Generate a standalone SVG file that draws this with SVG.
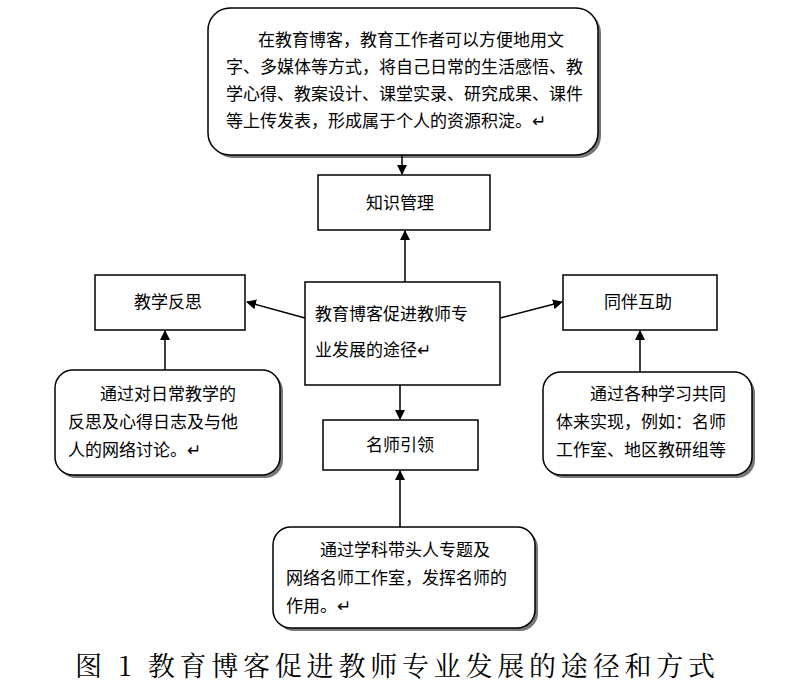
<svg xmlns="http://www.w3.org/2000/svg" width="789" height="685" viewBox="0 0 789 685">
<style>
.r{fill:#fff;stroke:#000;stroke-width:1.5}
.s{fill:#777}
.t{font-family:"Noto Sans CJK SC","Liberation Sans",sans-serif;font-size:17px;fill:#000}
.c{stroke:#000;stroke-width:1.5;fill:none;marker-end:url(#a)}
</style>
<defs><marker id="a" markerWidth="10" markerHeight="10" refX="9" refY="5" orient="auto" markerUnits="userSpaceOnUse"><path d="M0,0 L10,5 L0,10 z" fill="#000"/></marker></defs>
<rect width="789" height="685" fill="#fff"/>
<g id="top"><rect class="s" x="211" y="11" width="390" height="147" rx="22"/><rect class="r" x="208" y="8" width="390" height="147" rx="22"/>
<text class="t" x="258" y="46">在教育博客，教育工作者可以方便地用文</text>
<text class="t" x="226" y="73">字、多媒体等方式，将自己日常的生活感悟、教</text>
<text class="t" x="226" y="100">学心得、教案设计、课堂实录、研究成果、课件</text>
<text class="t" x="226" y="127">等上传发表，形成属于个人的资源积淀。↵</text></g>
<g id="zs"><rect class="r" x="318" y="175" width="172" height="55"/><text class="t" x="366" y="209">知识管理</text></g>
<g id="center"><rect class="r" x="305" y="282" width="195" height="103"/><text class="t" x="315" y="320">教育博客促进教师专</text><text class="t" x="315" y="356">业发展的途径↵</text></g>
<g id="fs"><rect class="r" x="95" y="275" width="150" height="55"/><text class="t" x="134" y="308">教学反思</text></g>
<g id="hz"><rect class="r" x="563" y="275" width="154" height="55"/><text class="t" x="604" y="308">同伴互助</text></g>
<g id="ml"><rect class="r" x="323" y="420" width="155" height="50"/><text class="t" x="366" y="451">名师引领</text></g>
<g id="left"><rect class="s" x="58" y="373" width="225" height="105" rx="18"/><rect class="r" x="55" y="370" width="225" height="105" rx="18"/>
<text class="t" x="100" y="400">通过对日常教学的</text><text class="t" x="68" y="428">反思及心得日志及与他</text><text class="t" x="68" y="456">人的网络讨论。↵</text></g>
<g id="right"><rect class="s" x="546" y="375" width="209" height="103" rx="18"/><rect class="r" x="543" y="372" width="209" height="103" rx="18"/>
<text class="t" x="590" y="400">通过各种学习共同</text><text class="t" x="556" y="428">体来实现，例如：名师</text><text class="t" x="556" y="456">工作室、地区教研组等</text></g>
<g id="bottom"><rect class="s" x="276" y="530" width="262" height="101" rx="18"/><rect class="r" x="273" y="527" width="262" height="101" rx="18"/>
<text class="t" x="320" y="556">通过学科带头人专题及</text><text class="t" x="286" y="584">网络名师工作室，发挥名师的</text><text class="t" x="286" y="612">作用。↵</text></g>
<g id="connectors">
<line class="c" x1="402" y1="155" x2="402" y2="174"/>
<line class="c" x1="405" y1="282" x2="405" y2="231"/>
<line class="c" x1="305" y1="318" x2="247" y2="302"/>
<line class="c" x1="500" y1="318" x2="562" y2="302"/>
<line class="c" x1="400" y1="385" x2="400" y2="419"/>
<line class="c" x1="165" y1="370" x2="165" y2="331"/>
<line class="c" x1="640" y1="372" x2="640" y2="331"/>
<line class="c" x1="400" y1="527" x2="400" y2="471"/>
</g>
<text x="75" y="676" font-family="Noto Serif CJK SC,Noto Sans CJK SC,serif" font-size="27" fill="#000" textLength="640" lengthAdjust="spacing">图 1  教育博客促进教师专业发展的途径和方式</text>
</svg>
